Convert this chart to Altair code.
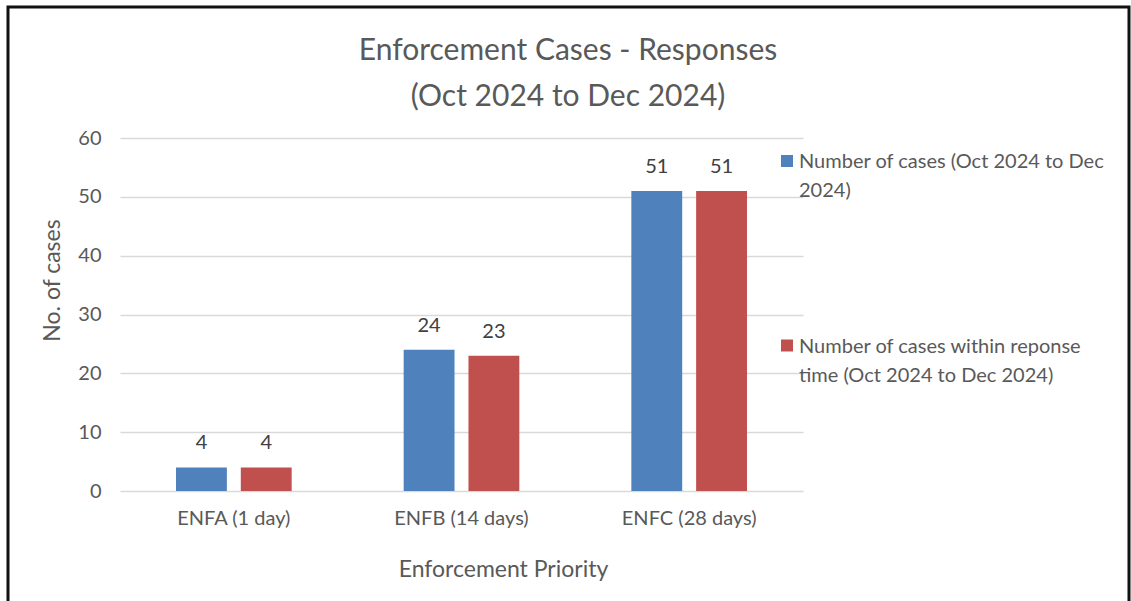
import altair as alt
import pandas as pd

# Chart values
priorities = ["ENFA (1 day)", "ENFB (14 days)", "ENFC (28 days)"]
series = [
    "Number of cases (Oct 2024 to Dec 2024)",
    "Number of cases within reponse time (Oct 2024 to Dec 2024)",
]
total_cases = [4, 24, 51]
within_time = [4, 23, 51]
series_colors = ["#4F81BD", "#C0504D"]
legend_lines = [
    ["Number of cases (Oct 2024 to Dec", "2024)"],
    ["Number of cases within reponse", "time (Oct 2024 to Dec 2024)"],
]
title_lines = ["Enforcement Cases - Responses", "(Oct 2024 to Dec 2024)"]
y_ticks = [0, 10, 20, 30, 40, 50, 60]

rows = []
for p, a, b in zip(priorities, total_cases, within_time):
    rows.append({"priority": p, "series": series[0], "cases": a})
    rows.append({"priority": p, "series": series[1], "cases": b})
df = pd.DataFrame(rows)
one = pd.DataFrame({"k": [0]})

FONT = "Lato"
TEXT = "#595959"
W, H = 683, 353

x_enc = alt.X(
    "priority:N",
    sort=priorities,
    scale=alt.Scale(paddingInner=0.492, paddingOuter=0.246),
    axis=alt.Axis(
        title="Enforcement Priority",
        labelAngle=0,
        domain=False,
        ticks=False,
        labelPadding=17,
        labelFont=FONT,
        labelFontSize=20,
        labelColor=TEXT,
        titleFont=FONT,
        titleFontSize=23,
        titleFontWeight="normal",
        titleColor=TEXT,
        titleX=383,
        titleY=78,
        titleAlign="center",
        titleBaseline="middle",
    ),
)
y_enc = alt.Y(
    "cases:Q",
    scale=alt.Scale(domain=[0, 60], nice=False),
    axis=alt.Axis(
        values=y_ticks,
        title="No. of cases",
        grid=True,
        gridColor="#D9D9D9",
        gridWidth=1.3,
        domain=False,
        ticks=False,
        labelPadding=19,
        labelFont=FONT,
        labelFontSize=20,
        labelColor=TEXT,
        titleFont=FONT,
        titleFontSize=23,
        titleFontWeight="normal",
        titleColor=TEXT,
        titleAngle=270,
        titleX=-68,
        titleY=142,
        titleAlign="center",
        titleBaseline="middle",
    ),
)
x_off = alt.XOffset(
    "series:N",
    sort=series,
    scale=alt.Scale(domain=series, paddingInner=0.215, paddingOuter=0),
)
color = alt.Color(
    "series:N", scale=alt.Scale(domain=series, range=series_colors), legend=None
)

bars = alt.Chart(df).mark_bar().encode(x=x_enc, y=y_enc, xOffset=x_off, color=color)

values = (
    alt.Chart(df)
    .mark_text(font=FONT, fontSize=20, color="#404040", baseline="middle", dy=-24)
    .encode(
        x=alt.X("priority:N", sort=priorities),
        y=alt.Y("cases:Q"),
        xOffset=alt.XOffset("series:N", sort=series),
        text=alt.Text("cases:Q"),
    )
)

title = (
    alt.Chart(one)
    .mark_text(
        text=title_lines,
        font=FONT,
        fontSize=30,
        color=TEXT,
        align="center",
        baseline="alphabetic",
        lineHeight=46,
    )
    .encode(x=alt.value(448), y=alt.value(-78))
)

frame = (
    alt.Chart(one)
    .mark_rect(filled=False, stroke="#111111", strokeWidth=3)
    .encode(x=alt.value(-112), x2=alt.value(1009), y=alt.value(-131), y2=alt.value(560))
)

legend_layers = []
for i, (lines, col) in enumerate(zip(legend_lines, series_colors)):
    row_y = 23 if i == 0 else 207.5
    legend_layers.append(
        alt.Chart(one)
        .mark_square(size=144, color=col, opacity=1)
        .encode(x=alt.value(667), y=alt.value(row_y))
    )
    legend_layers.append(
        alt.Chart(one)
        .mark_text(
            text=lines,
            font=FONT,
            fontSize=20,
            color=TEXT,
            align="left",
            baseline="alphabetic",
            lineHeight=29,
        )
        .encode(x=alt.value(679), y=alt.value(row_y + 7))
    )

chart = (
    alt.layer(frame, bars, values, title, *legend_layers)
    .properties(
        width=W,
        height=H,
        autosize=alt.AutoSizeParams(type="none"),
        padding={"left": 120, "top": 138, "right": 328, "bottom": 110},
        background="white",
    )
    .configure_view(strokeWidth=0)
)

chart.save("out.html", embed_options={"renderer": "svg", "actions": False})
